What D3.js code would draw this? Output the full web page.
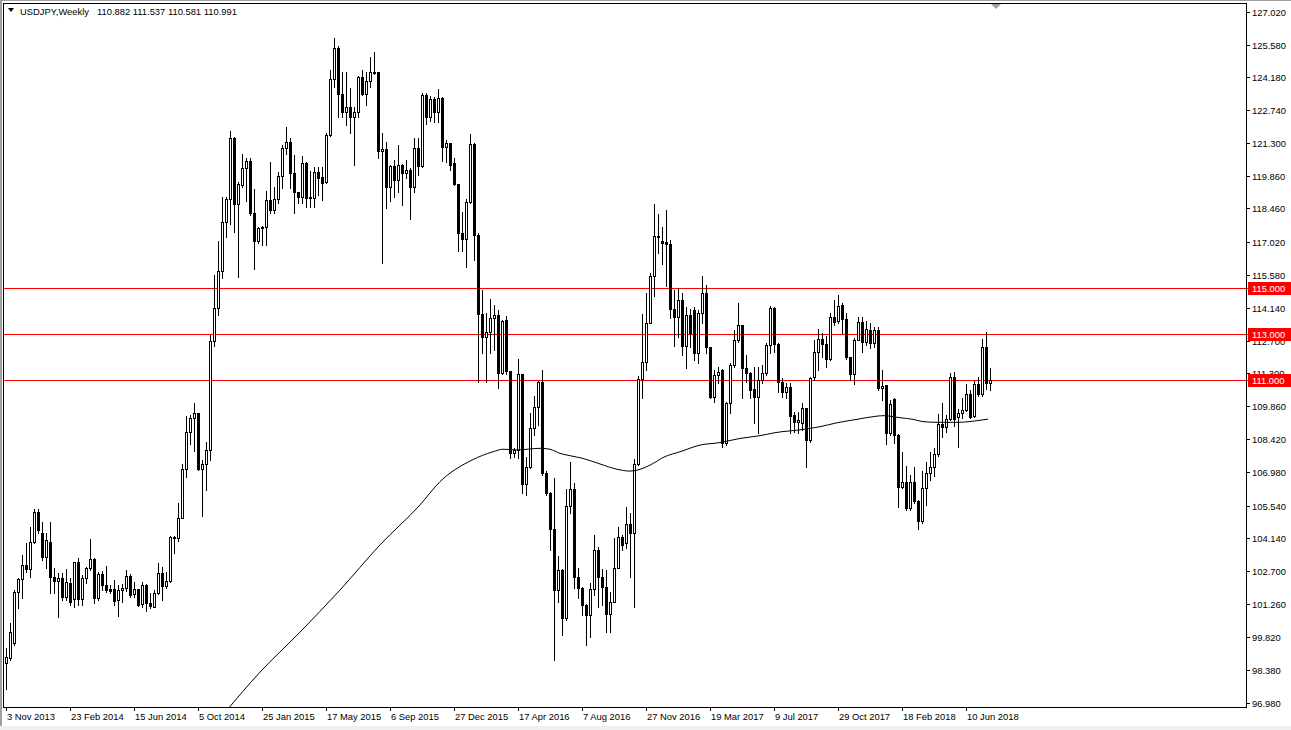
<!DOCTYPE html>
<html><head><meta charset="utf-8">
<script src="https://cdn.jsdelivr.net/npm/d3@7"></script>
<style>html,body{margin:0;padding:0;background:#fff;overflow:hidden}svg{display:block}</style>
</head><body>
<svg id="chart" width="1291" height="730"></svg>
<script>
const symbolTitle = "USDJPY,Weekly";

const open = [
98.68,98.90,99.55,101.80,102.33,102.96,102.77,103.97,105.25,104.33,
103.32,103.97,102.42,102.28,102.38,101.55,102.16,101.46,103.07,101.46,
102.38,102.81,103.22,101.51,102.55,102.09,101.91,101.90,101.43,101.87,
101.94,102.48,101.70,101.90,101.26,102.09,101.29,101.14,101.73,102.59,
102.06,102.26,104.13,104.12,104.99,107.11,108.72,109.33,109.55,107.11,
107.33,107.96,112.70,114.12,115.75,117.85,118.86,121.51,118.64,119.48,
120.20,120.52,118.25,117.06,117.59,117.66,118.83,118.39,118.85,119.88,
121.07,121.33,119.98,119.19,118.94,120.42,118.90,118.90,120.06,119.84,
119.62,121.65,124.07,125.42,123.42,122.67,122.85,122.45,122.67,124.19,
123.43,124.01,124.33,124.38,120.97,121.04,119.41,120.30,119.69,120.35,
120.01,120.13,119.41,121.07,120.30,123.39,122.45,123.20,122.67,123.27,
121.12,121.29,120.42,119.52,117.38,117.11,118.75,121.26,117.30,113.85,
112.88,113.10,113.68,113.83,111.29,113.61,111.40,107.81,107.96,111.26,
106.48,107.23,108.90,109.81,110.93,106.97,106.10,104.51,101.87,102.74,
100.64,105.52,106.26,102.45,101.94,101.22,100.78,101.93,103.61,102.45,
101.98,100.83,101.36,102.81,104.16,103.90,104.74,104.36,107.35,111.03,
111.80,113.49,115.52,117.20,117.06,117.00,116.90,114.07,113.73,114.48,
112.48,113.83,114.04,112.19,113.90,114.77,112.45,110.28,111.22,111.43,
108.25,109.99,111.65,112.74,113.39,111.51,111.29,110.59,110.25,111.00,
111.29,112.52,114.12,112.55,110.93,110.49,110.68,109.48,109.19,109.12,
109.77,108.39,111.12,112.23,112.77,112.57,111.90,113.72,113.58,114.26,
113.64,111.99,111.26,112.74,113.54,112.64,113.17,112.59,113.17,110.64,
110.78,108.68,110.16,108.61,106.33,106.55,105.42,106.55,105.75,104.88,
106.29,106.97,107.20,107.78,109.09,108.94,109.29,111.12,109.38,109.55,
109.70,110.39,109.44,110.83,110.39,112.42,110.882];

const high = [
99.33,100.42,101.85,102.38,103.39,103.90,104.62,105.38,105.38,104.84,
104.33,104.81,102.81,102.59,102.59,102.77,102.38,103.10,103.25,102.52,
102.88,104.09,103.25,102.67,102.70,102.91,102.09,102.30,102.09,102.11,
102.74,102.57,102.23,101.92,102.23,102.11,101.75,101.87,103.03,102.85,
102.67,104.22,104.22,105.64,107.35,109.43,109.48,110.01,109.58,107.52,
108.32,112.96,115.56,117.06,118.97,118.97,121.84,121.58,119.60,120.81,
120.64,120.64,119.30,117.67,117.70,119.23,120.49,119.41,120.06,121.22,
121.98,121.51,120.78,119.19,120.74,120.49,120.09,120.27,120.27,120.27,
121.72,124.48,125.85,125.50,124.41,124.41,123.68,122.85,124.22,124.48,
124.41,125.06,125.28,124.41,121.72,121.36,120.35,120.57,121.22,120.39,
120.57,120.20,121.51,121.51,123.49,123.46,123.35,123.32,123.64,123.32,
121.43,121.29,120.64,119.52,118.32,118.87,121.70,121.30,117.38,114.91,
113.90,114.52,114.26,114.04,113.61,113.78,111.40,108.03,111.90,111.26,
107.64,109.55,110.30,110.97,111.43,107.06,106.15,106.72,103.35,102.80,
106.26,107.45,106.53,102.81,101.98,101.25,102.16,104.26,103.75,102.77,
102.74,101.80,104.12,104.62,104.26,105.49,105.20,107.55,111.17,113.87,
114.80,115.64,118.65,118.22,117.67,118.40,117.10,114.91,114.99,114.77,
114.19,114.07,114.19,114.04,115.52,115.13,112.45,111.43,111.58,111.46,
110.06,111.73,113.17,114.36,113.39,112.09,111.36,111.58,111.55,111.65,
112.59,114.22,114.19,112.60,111.07,110.86,110.86,109.62,109.60,110.00,
109.80,111.12,112.74,113.20,113.03,112.90,113.90,114.48,114.70,114.33,
113.90,111.99,112.81,113.75,113.75,113.58,113.46,113.32,113.32,111.44,
110.80,110.13,110.20,108.65,107.88,107.26,106.87,107.23,105.78,107.06,
107.45,107.88,108.03,109.52,109.99,109.48,111.29,111.36,109.73,110.20,
110.83,110.57,110.97,111.12,112.77,113.10,111.537];

const low = [
97.55,98.83,99.48,101.07,101.51,102.67,102.42,103.90,104.33,103.17,
102.81,101.72,101.72,100.68,101.43,101.43,101.22,101.14,101.22,101.22,
102.16,102.74,101.29,101.43,101.87,101.80,101.72,101.22,100.74,101.36,
101.84,101.55,101.58,101.17,101.14,100.97,101.07,101.12,101.70,101.43,
101.94,102.23,103.49,104.01,104.99,106.77,108.22,107.93,107.09,105.09,
106.22,107.52,112.49,113.83,115.42,117.20,117.78,117.42,115.49,119.41,
118.80,118.17,115.81,116.94,116.87,116.87,118.28,118.28,118.68,119.33,
120.83,119.33,118.28,118.68,118.68,118.54,118.54,118.54,119.04,118.82,
119.55,121.61,123.72,122.42,122.42,122.09,121.72,120.35,122.42,123.39,
122.96,123.75,124.30,120.64,116.07,118.46,118.80,118.97,119.19,118.61,
119.77,117.98,119.19,119.91,120.27,122.13,122.28,122.23,122.23,120.54,
120.49,120.13,119.48,116.62,116.62,115.93,118.68,116.22,110.93,112.16,
110.93,112.16,112.30,110.64,111.26,111.26,107.59,107.64,107.59,106.07,
105.99,107.16,108.61,109.04,106.87,105.99,103.60,98.83,101.36,99.91,
100.56,105.23,101.94,101.51,100.78,99.48,99.84,101.65,101.15,101.22,
100.06,100.06,101.36,102.81,103.61,103.68,102.45,101.15,107.31,110.20,
111.43,113.46,114.65,116.51,116.04,115.10,113.68,112.48,112.88,112.09,
111.51,112.45,111.87,111.75,113.46,112.19,110.20,110.06,110.86,108.07,
108.17,109.55,111.58,112.66,110.20,110.93,110.20,109.12,108.68,110.86,
111.22,112.16,112.23,110.49,110.27,110.20,108.68,108.75,108.70,108.82,
107.23,108.32,111.00,111.44,112.00,111.55,111.87,113.40,113.46,113.03,
111.90,111.00,110.83,112.74,112.23,112.52,112.38,112.45,110.57,110.13,
108.22,108.61,108.28,105.49,106.29,105.35,105.35,105.64,104.51,104.80,
105.57,106.65,106.83,107.70,108.51,108.75,109.25,109.00,108.07,109.33,
109.67,109.33,109.40,110.31,110.31,110.59,110.581];

const close = [
98.97,100.06,101.80,102.33,102.96,102.77,103.97,105.25,104.48,103.32,
104.04,102.42,102.28,102.38,101.55,102.20,101.36,103.07,101.46,102.38,
102.81,103.22,101.51,102.55,102.09,101.87,101.84,101.40,101.87,101.97,
102.48,101.65,101.90,101.22,102.09,101.29,101.17,101.73,102.59,102.06,
102.26,104.19,104.19,104.99,107.11,108.72,109.33,109.55,107.11,107.33,
107.96,112.70,114.12,115.75,117.85,118.86,121.51,118.64,119.51,120.20,
120.52,118.25,117.06,117.59,117.66,118.83,118.39,118.85,119.88,121.07,
121.33,119.98,119.19,118.94,120.42,118.90,118.96,120.06,119.80,119.58,
121.65,124.07,125.42,123.42,122.67,122.85,122.45,122.67,124.19,123.43,
124.01,124.38,124.38,120.97,121.04,119.41,120.30,119.69,120.35,120.01,
120.13,119.41,121.07,120.30,123.39,122.45,123.20,122.67,123.27,121.12,
121.29,120.35,119.52,117.38,117.11,118.75,121.26,117.30,113.85,112.88,
113.10,113.68,113.83,111.29,113.57,111.40,107.81,107.96,111.26,106.48,
107.23,108.90,109.81,110.93,106.97,106.10,104.51,101.87,102.74,100.64,
105.52,106.26,102.45,101.94,101.22,100.78,101.93,103.61,102.45,101.98,
100.83,101.36,102.81,104.16,103.83,104.74,104.36,107.35,111.03,111.80,
113.49,115.52,117.26,117.26,116.94,116.90,114.07,113.73,114.48,112.48,
113.83,113.03,112.19,113.90,114.77,112.45,110.28,111.22,111.36,108.25,
109.99,111.65,112.74,113.39,111.51,111.29,110.57,110.25,111.00,111.29,
112.52,114.12,112.57,110.93,110.49,110.68,109.43,109.19,109.26,109.77,
108.39,111.07,112.23,112.77,112.57,111.90,113.72,113.54,114.22,113.64,
111.99,111.26,112.74,113.54,112.64,113.20,112.62,113.17,110.64,110.74,
108.68,109.96,108.61,106.33,106.55,105.42,106.55,105.75,104.88,106.29,
106.97,107.20,107.78,109.09,108.94,109.29,111.12,109.29,109.55,109.70,
110.39,109.41,110.83,110.39,112.42,110.86,110.991];

// moving average: bar position -> price
const maBar = [55,63.5,73.5,83.5,93.5,103.5,108.5,116.5,121.75,124.25,127.75,133.5,136,138.5,141,144.25,148.5,152.75,156,158,161,164.75,168.5,173.5,178.5,183.5,188.5,192.25,199.25,203.5,207.75,212.75,217.75,219.5,223.5,226.75,229.25,232.75,237.75,242.75,245.5];
const maValue = [96.6,98.3,100.04,101.87,103.83,105.57,106.58,107.52,107.88,107.99,107.96,108.03,107.99,107.81,107.71,107.59,107.35,107.12,107.04,107.09,107.30,107.67,107.88,108.17,108.28,108.46,108.58,108.71,108.85,108.97,109.14,109.29,109.43,109.45,109.36,109.29,109.19,109.16,109.16,109.23,109.30];

const dateLabelBars = [0,16,32,48,64,80,96,112,128,144,160,176,192,208,224,240];
const dateLabels = ["3 Nov 2013","23 Feb 2014","15 Jun 2014","5 Oct 2014","25 Jan 2015","17 May 2015","6 Sep 2015","27 Dec 2015","17 Apr 2016","7 Aug 2016","27 Nov 2016","19 Mar 2017","9 Jul 2017","29 Oct 2017","18 Feb 2018","10 Jun 2018"];
const priceTicks = [127.02,125.58,124.18,122.74,121.30,119.86,118.46,117.02,115.58,114.14,112.70,111.30,109.86,108.42,106.98,105.54,104.14,102.70,101.26,99.82,98.38,96.98];
const levelLines = [115,113,111];

const FONT = "'Liberation Sans', Arial, sans-serif";
const FS = "9.4px";
const svg = d3.select("#chart");
const W = 1291, H = 730;
const frame = {l:3, t:3, r:1246, b:707};
const nBars = open.length;

const x = d3.scaleLinear().domain([0, nBars - 1]).range([6, 6 + 4 * (nBars - 1)]);
const y = d3.scaleLinear().domain([96.98, 127.02]).range([702.5, 11.5]);

// window edges
svg.append("rect").attr("x",0).attr("y",0).attr("width",W).attr("height",H).attr("fill","#fff");
svg.append("rect").attr("x",0).attr("y",726).attr("width",W).attr("height",4).attr("fill","#f0f0f0");
svg.append("rect").attr("x",0).attr("y",0).attr("width",2).attr("height",726).attr("fill","#a0a0a0");
svg.append("rect").attr("x",0).attr("y",0).attr("width",W).attr("height",1).attr("fill","#a0a0a0");

svg.append("defs").append("clipPath").attr("id","plotClip")
  .append("rect").attr("x",frame.l+1).attr("y",frame.t+1)
  .attr("width",frame.r-frame.l-1).attr("height",frame.b-frame.t-1);

// level lines
const lv = svg.append("g");
levelLines.forEach(v => {
  const yy = Math.round(y(v)) + 0.5;
  lv.append("line").attr("x1",frame.l).attr("x2",1249).attr("y1",yy).attr("y2",yy)
    .attr("stroke","#ff0000").attr("stroke-width",1);
});

// candles
const cg = svg.append("g").attr("clip-path","url(#plotClip)");
d3.range(nBars).forEach(i => {
  const cx = Math.round(x(i));
  const yh = Math.round(y(high[i])), yl = Math.round(y(low[i]));
  const top = Math.round(y(Math.max(open[i], close[i])));
  const bot = Math.round(y(Math.min(open[i], close[i])));
  cg.append("rect").attr("x",cx).attr("y",yh).attr("width",1).attr("height",Math.max(1,yl-yh+1)).attr("fill","#000");
  cg.append("rect").attr("x",cx-1).attr("y",top).attr("width",3).attr("height",bot-top+1).attr("fill","#000");
  if (close[i] > open[i] && bot - top > 1) {
    cg.append("rect").attr("x",cx).attr("y",top+1).attr("width",1).attr("height",bot-top-1).attr("fill","#fff");
  }
});

// moving average
const maLine = d3.line().x((d,k) => x(maBar[k])).y((d,k) => y(maValue[k])).curve(d3.curveMonotoneX);
svg.append("path").attr("clip-path","url(#plotClip)").datum(maValue).attr("d", maLine)
  .attr("fill","none").attr("stroke","#000").attr("stroke-width",1);

// frame
svg.append("rect").attr("x",frame.l+0.5).attr("y",frame.t+0.5)
  .attr("width",frame.r-frame.l).attr("height",frame.b-frame.t)
  .attr("fill","none").attr("stroke","#000").attr("stroke-width",1);

// price axis
const pa = svg.append("g");
priceTicks.forEach(v => {
  const yy = Math.round(y(v)) + 0.5;
  pa.append("line").attr("x1",frame.r+0.5).attr("x2",frame.r+4).attr("y1",yy).attr("y2",yy).attr("stroke","#000");
  pa.append("text").attr("x",1252).attr("y",yy+3.5).attr("font-family",FONT).attr("font-size",FS)
    .attr("fill","#000").text(d3.format(".3f")(v));
});
levelLines.forEach(v => {
  const yy = Math.round(y(v));
  pa.append("rect").attr("x",1248).attr("y",yy-6).attr("width",43).attr("height",13).attr("fill","#ff0000");
  pa.append("text").attr("x",1252).attr("y",yy+4).attr("font-family",FONT).attr("font-size",FS)
    .attr("fill","#fff").text(d3.format(".3f")(v));
});

// time axis
const ta = svg.append("g");
dateLabelBars.forEach((b,k) => {
  const xx = Math.round(x(b)) + 0.5;
  ta.append("line").attr("x1",xx).attr("x2",xx).attr("y1",frame.b).attr("y2",frame.b+4).attr("stroke","#000");
  ta.append("text").attr("x",xx+0.5).attr("y",720).attr("font-family",FONT).attr("font-size",FS)
    .attr("fill","#000").text(dateLabels[k]);
});

// header
const last = nBars - 1;
svg.append("path").attr("d","M8,8 L14,8 L11,12 Z").attr("fill","#000");
svg.append("text").attr("x",20).attr("y",15).attr("font-family",FONT).attr("font-size",FS).attr("fill","#000")
  .text(symbolTitle);
svg.append("text").attr("x",97).attr("y",15).attr("font-family",FONT).attr("font-size",FS).attr("fill","#000")
  .text([open[last],high[last],low[last],close[last]].map(d3.format(".3f")).join(" "));

// chart shift marker
svg.append("path").attr("d","M991,4 L1001,4 L996,9 Z").attr("fill","#a0a0a0");
</script>
</body></html>
